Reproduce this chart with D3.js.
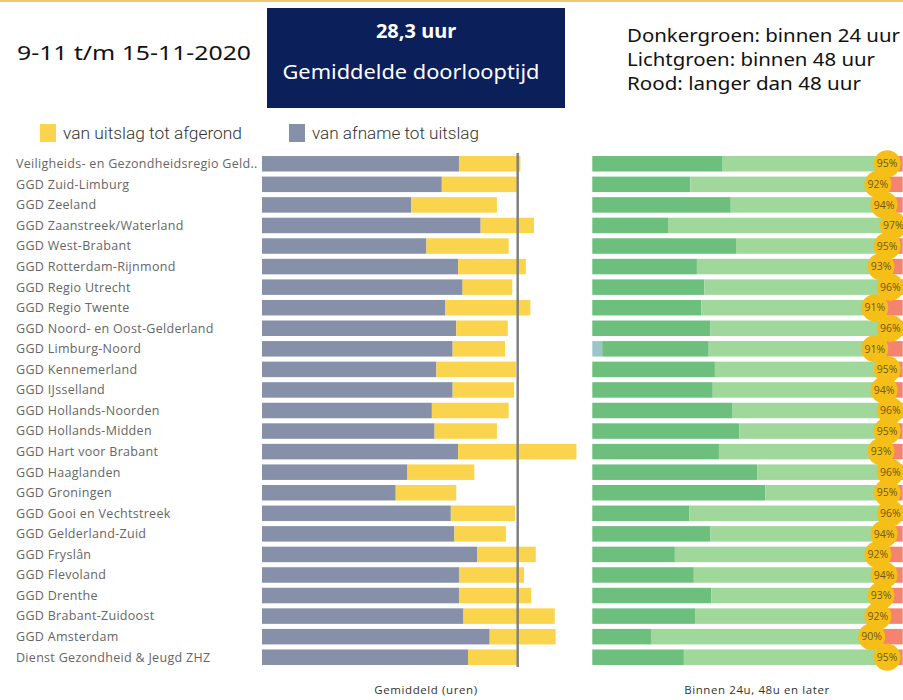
<!DOCTYPE html>
<html>
<head>
<meta charset="utf-8">
<script src="https://cdn.jsdelivr.net/npm/d3@7"></script>
<style>
  html, body { margin: 0; padding: 0; background: #ffffff; }
  svg { display: block; }
</style>
</head>
<body>
<svg id="chart" width="903" height="700"></svg>
<script>
// ---------- DATA ----------
const categories = [
  "Veiligheids- en Gezondheidsregio Geld..",
  "GGD Zuid-Limburg",
  "GGD Zeeland",
  "GGD Zaanstreek/Waterland",
  "GGD West-Brabant",
  "GGD Rotterdam-Rijnmond",
  "GGD Regio Utrecht",
  "GGD Regio Twente",
  "GGD Noord- en Oost-Gelderland",
  "GGD Limburg-Noord",
  "GGD Kennemerland",
  "GGD IJsselland",
  "GGD Hollands-Noorden",
  "GGD Hollands-Midden",
  "GGD Hart voor Brabant",
  "GGD Haaglanden",
  "GGD Groningen",
  "GGD Gooi en Vechtstreek",
  "GGD Gelderland-Zuid",
  "GGD Fryslân",
  "GGD Flevoland",
  "GGD Drenthe",
  "GGD Brabant-Zuidoost",
  "GGD Amsterdam",
  "Dienst Gezondheid & Jeugd ZHZ"
];
// hours: van afname tot uitslag (grey)
const afnameTotUitslag = [21.8, 19.9, 16.5, 24.2, 18.2, 21.7, 22.2, 20.3, 21.5, 21.1, 19.3, 21.1, 18.8,
                          19.1, 21.7, 16.1, 14.8, 20.9, 21.3, 23.8, 21.8, 21.8, 22.3, 25.2, 22.8];
// hours: van uitslag tot afgerond (yellow)
const uitslagTotAfgerond = [6.8, 8.5, 9.5, 5.9, 9.1, 7.5, 5.5, 9.4, 5.7, 5.8, 8.8, 6.8, 8.5,
                            6.9, 13.1, 7.4, 6.7, 7.1, 5.7, 6.5, 7.2, 8.0, 10.1, 7.3, 5.4];
const gemiddeldeUren = 28.3;
// percent: onbekend (teal), binnen 24 uur (dark green), binnen 48 uur total (label)
const onbekendPct = [0, 0, 0, 0, 0, 0, 0, 0, 0, 3.2, 0, 0, 0, 0, 0, 0, 0, 0, 0, 0, 0, 0, 0, 0, 0];
const binnen24Pct = [42.0, 31.6, 44.6, 24.4, 46.3, 33.7, 36.1, 35.1, 38.1, 34.3, 39.5, 38.8, 45.2,
                     47.4, 40.8, 53.1, 55.7, 31.2, 38.1, 26.6, 32.7, 38.3, 33.1, 18.9, 29.5];
const binnen48Pct = [95, 92, 94, 97, 95, 93, 96, 91, 96, 91, 95, 94, 96,
                     95, 93, 96, 95, 96, 94, 92, 94, 93, 92, 90, 95];
const xTicksLeft = [0, 36];
const xTicksRight = [0, 100];

// ---------- STYLES ----------
const C = {
  grey: "#8790a9", yellow: "#fad44c", dark: "#6dbf7e", light: "#a0d89b",
  red: "#f4846f", teal: "#9cc5ca", badge: "#f6bf17", badgeText: "#6e5718",
  navy: "#0b1f5b", avg: "#808080", label: "#666666"
};
const HEAD_FONT = "Noto Sans, Open Sans, sans-serif";
const BODY_FONT = "Open Sans, Noto Sans, sans-serif";

const svg = d3.select("#chart");

// top gold rule
svg.append("rect").attr("x", 0).attr("y", 0).attr("width", 903).attr("height", 2).attr("fill", "#edc873");

// ---------- HEADER ----------
svg.append("text").attr("x", 17).attr("y", 60)
  .attr("font-family", HEAD_FONT).attr("font-size", 19).attr("fill", "#111")
  .attr("textLength", 234).attr("lengthAdjust", "spacingAndGlyphs")
  .text("9-11 t/m 15-11-2020");

svg.append("rect").attr("x", 267).attr("y", 8).attr("width", 298).attr("height", 100).attr("fill", C.navy);
svg.append("text").attr("x", 416).attr("y", 38).attr("text-anchor", "middle")
  .attr("font-family", HEAD_FONT).attr("font-weight", "bold").attr("font-size", 20)
  .attr("fill", "#fff").text("28,3 uur");
svg.append("text").attr("x", 411).attr("y", 79).attr("text-anchor", "middle")
  .attr("font-family", HEAD_FONT).attr("font-size", 19).attr("fill", "#fff")
  .attr("textLength", 257).attr("lengthAdjust", "spacingAndGlyphs")
  .text("Gemiddelde doorlooptijd");

const rightHeader = [["Donkergroen: binnen 24 uur", 42, 273], ["Lichtgroen: binnen 48 uur", 66, 248], ["Rood: langer dan 48 uur", 90, 234]];
svg.selectAll("text.rh").data(rightHeader).join("text").attr("class", "rh")
  .attr("x", 627).attr("y", d => d[1])
  .attr("font-family", HEAD_FONT).attr("font-size", 18).attr("fill", "#111")
  .attr("textLength", d => d[2]).attr("lengthAdjust", "spacingAndGlyphs")
  .text(d => d[0]);

// ---------- LEGEND ----------
const legend = [
  { label: "van uitslag tot afgerond", color: C.yellow, x: 40, w: 179 },
  { label: "van afname tot uitslag", color: C.grey, x: 289, w: 167 }
];
const lg = svg.selectAll("g.lg").data(legend).join("g").attr("class", "lg")
  .attr("transform", d => `translate(${d.x},124)`);
lg.append("rect").attr("width", 16).attr("height", 18).attr("fill", d => d.color);
lg.append("text").attr("x", 23).attr("y", 15)
  .attr("font-family", "Roboto, sans-serif").attr("font-weight", 300).attr("font-size", 16).attr("fill", "#333")
  .attr("textLength", d => d.w).attr("lengthAdjust", "spacingAndGlyphs")
  .text(d => d.label);

// ---------- SCALES ----------
const y = d3.scaleBand().domain(categories).range([153.5, 667.5]).paddingInner(0.246).paddingOuter(0.123);
const xL = d3.scaleLinear().domain(xTicksLeft).range([262, 262 + 36 * 9.035]);
const xR = d3.scaleLinear().domain(xTicksRight).range([592.3, 902.7]);

// ---------- CATEGORY LABELS ----------
svg.append("g").selectAll("text").data(categories).join("text")
  .attr("x", 16).attr("y", d => y(d) + y.bandwidth() / 2)
  .attr("dy", "0.35em")
  .attr("font-family", BODY_FONT).attr("font-size", 12.5).attr("letter-spacing", 0.3).attr("fill", C.label)
  .text(d => d);

// ---------- LEFT CHART ----------
const rows = categories.map((c, i) => ({
  cat: c, a: afnameTotUitslag[i], u: uitslagTotAfgerond[i],
  o: onbekendPct[i], d24: binnen24Pct[i], p48: binnen48Pct[i]
}));

const gL = svg.append("g");
gL.selectAll("rect.g").data(rows).join("rect").attr("class", "g")
  .attr("x", xL(0)).attr("y", d => y(d.cat)).attr("height", y.bandwidth())
  .attr("width", d => xL(d.a) - xL(0)).attr("fill", C.grey);
gL.selectAll("rect.y").data(rows).join("rect").attr("class", "y")
  .attr("x", d => xL(d.a)).attr("y", d => y(d.cat)).attr("height", y.bandwidth())
  .attr("width", d => xL(d.a + d.u) - xL(d.a)).attr("fill", C.yellow);
gL.append("line").attr("x1", xL(gemiddeldeUren)).attr("x2", xL(gemiddeldeUren))
  .attr("y1", 153).attr("y2", 667).attr("stroke", C.avg).attr("stroke-width", 2.5);

// ---------- RIGHT CHART ----------
const gR = svg.append("g");
const segs = [];
rows.forEach(d => {
  segs.push({ cat: d.cat, x0: 0, x1: d.o, c: C.teal });
  segs.push({ cat: d.cat, x0: d.o, x1: d.o + d.d24, c: C.dark });
  segs.push({ cat: d.cat, x0: d.o + d.d24, x1: d.p48, c: C.light });
  segs.push({ cat: d.cat, x0: d.p48, x1: 100, c: C.red });
});
gR.selectAll("rect").data(segs.filter(s => s.x1 > s.x0)).join("rect")
  .attr("x", d => xR(d.x0)).attr("y", d => y(d.cat)).attr("height", y.bandwidth())
  .attr("width", d => xR(d.x1) - xR(d.x0)).attr("fill", d => d.c);

const badges = svg.append("g").selectAll("g").data(rows).join("g")
  .attr("transform", d => `translate(${xR(d.p48)},${y(d.cat) + y.bandwidth() / 2})`);
badges.append("circle").attr("r", 13.5).attr("fill", C.badge);
badges.append("text").attr("text-anchor", "middle").attr("dy", "0.35em")
  .attr("font-family", BODY_FONT).attr("font-size", 10.5).attr("fill", C.badgeText)
  .text(d => d.p48 + "%");

// ---------- AXIS TITLES ----------
svg.append("text").attr("x", 426).attr("y", 694).attr("text-anchor", "middle")
  .attr("font-family", BODY_FONT).attr("font-size", 11.5).attr("letter-spacing", 0.6).attr("fill", "#333")
  .text("Gemiddeld (uren)");
svg.append("text").attr("x", 757).attr("y", 694).attr("text-anchor", "middle")
  .attr("font-family", BODY_FONT).attr("font-size", 11.5).attr("letter-spacing", 0.6).attr("fill", "#333")
  .text("Binnen 24u, 48u en later");
</script>
</body>
</html>
